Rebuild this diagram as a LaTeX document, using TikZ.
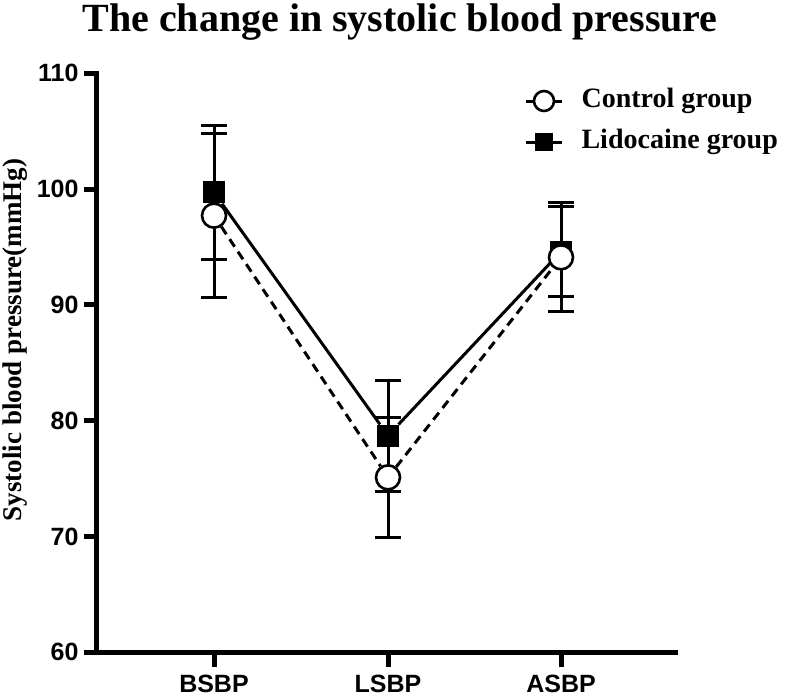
\documentclass[tikz,border=0pt]{standalone}
\usepackage{fontspec}
\setmainfont{Liberation Serif}
\setsansfont{Liberation Sans}
\begin{document}
\begin{tikzpicture}[x=1pt,y=-1pt,
  ln/.style={line width=3pt},
  cbar/.style={line width=3pt},
  circ/.style={circle,draw,fill=white,line width=2.6pt,minimum size=24pt,inner sep=0pt},
  sq/.style={rectangle,fill=black,minimum size=22pt,inner sep=0pt},
  tl/.style={font=\sffamily\bfseries\fontsize{25}{25}\selectfont}]
\useasboundingbox (0,0) rectangle (786,697);
\def\Y#1{189-(#1-100)*11.58}
% title
\node[font=\bfseries\fontsize{40}{40}\selectfont] (title) at (400,22) {The change in systolic blood pressure};
% axes
\draw[line width=5pt] (96,71) -- (96,652) -- (678,652);
\foreach \v in {60,70,...,110}{
  \draw[line width=5pt] (84,{\Y{\v}}) -- (96,{\Y{\v}});
  \node[tl,anchor=east] at (82,{\Y{\v}}) {\v};}
\foreach \x/\t in {214/BSBP,388/LSBP,561/ASBP}{
  \draw[line width=5pt] (\x,652) -- (\x,667);
  \node[tl] at (\x,684) {\t};}
\node[rotate=90,font=\bfseries\fontsize{27}{27}\selectfont] (ylab) at (15,340) {Systolic blood pressure(mmHg)};
% error bars
\foreach \x/\m/\e in {214/97.7/7.1,388/75.1/5.2,561/94.1/4.7,214/99.7/5.8,388/78.7/4.8,561/94.6/3.9}{
  \draw[cbar] (\x,{\Y{\m-\e}}) -- (\x,{\Y{\m+\e}});
  \draw[cbar] (\x-13,{\Y{\m-\e}}) -- (\x+13,{\Y{\m-\e}});
  \draw[cbar] (\x-13,{\Y{\m+\e}}) -- (\x+13,{\Y{\m+\e}});}
% points
\node[sq] (l1) at (214,{\Y{99.7}}) {};
\node[sq] (l2) at (388,{\Y{78.7}}) {};
\node[sq] (l3) at (561,{\Y{94.6}}) {};
\draw[ln] (l1) -- (l2) -- (l3);
\node[circ] (c1) at (214,{\Y{97.7}}) {};
\node[circ] (c2) at (388,{\Y{75.1}}) {};
\node[circ] (c3) at (561,{\Y{94.1}}) {};
\draw[ln,dash pattern=on 9pt off 6pt] (c1) -- (c2) -- (c3);
% legend
\coordinate (la) at (526,101); \coordinate (lb) at (562,101);
\draw[ln] (la) -- (lb);
\node[circ,minimum size=20pt] (lc) at (544,101) {};
\coordinate (sa) at (526,142); \coordinate (sb) at (562,142);
\draw[ln] (sa) -- (sb);
\node[sq,minimum size=18pt] (ls) at (544,142) {};
\node[anchor=west,font=\bfseries\fontsize{28}{28}\selectfont] (t1) at (578,101) {Control group};
\node[anchor=west,font=\bfseries\fontsize{28}{28}\selectfont] (t2) at (578,142) {Lidocaine group};
\end{tikzpicture}
\end{document}
